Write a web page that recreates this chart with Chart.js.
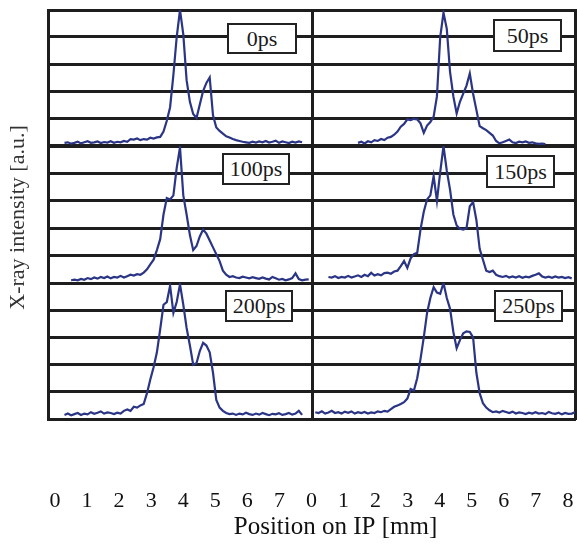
<!DOCTYPE html>
<html>
<head>
<meta charset="utf-8">
<script src="https://cdn.jsdelivr.net/npm/chart.js@4/dist/chart.umd.min.js"></script>
<style>
  body { margin: 0; background: #fff; }
  #wrap { position: relative; width: 577px; height: 550px; overflow: hidden; }
  #wrap canvas { position: absolute; }
  .tag {
    position: absolute; box-sizing: border-box; background: #fff;
    border: 2px solid #222; color: #1a1a1a; text-align: center;
    font: 22px "Liberation Serif", "DejaVu Serif", serif; z-index: 5;
  }
</style>
</head>
<body>
<div id="wrap">
  <canvas id="frame" width="625" height="550" style="left:0;top:0"></canvas>
</div>
<script>
// sample positions along the image plate, mm
const positions = [
  0.0, 0.1, 0.2, 0.3, 0.4, 0.5, 0.6, 0.7, 0.8, 0.9,
  1.0, 1.1, 1.2, 1.3, 1.4, 1.5, 1.6, 1.7, 1.8, 1.9,
  2.0, 2.1, 2.2, 2.3, 2.4, 2.5, 2.6, 2.7, 2.8, 2.9,
  3.0, 3.1, 3.2, 3.3, 3.4, 3.5, 3.6, 3.7, 3.8, 3.9,
  4.0, 4.1, 4.2, 4.3, 4.4, 4.5, 4.6, 4.7, 4.8, 4.9,
  5.0, 5.1, 5.2, 5.3, 5.4, 5.5, 5.6, 5.7, 5.8, 5.9,
  6.0, 6.1, 6.2, 6.3, 6.4, 6.5, 6.6, 6.7, 6.8, 6.9,
  7.0, 7.1, 7.2, 7.3, 7.4, 7.5, 7.6, 7.7, 7.8, 7.9,
  8.0
];

// x-ray intensity, a.u. (0..5 = panel height)
const intensity0ps = [
  null, null, null, null, null, 0.08, 0.10, 0.05, 0.08, 0.12,
  0.06, 0.10, 0.14, 0.08, 0.10, 0.13, 0.07, 0.11, 0.09, 0.14,
  0.08, 0.12, 0.10, 0.15, 0.12, 0.22, 0.20, 0.24, 0.18, 0.22,
  0.20, 0.27, 0.24, 0.28, 0.30, 0.50, 0.90, 1.40, 2.60, 4.00,
  5.00, 4.10, 2.40, 1.60, 1.15, 1.00, 1.50, 2.00, 2.30, 2.50,
  1.10, 0.65, 0.52, 0.42, 0.32, 0.28, 0.22, 0.18, 0.15, 0.12,
  0.10, 0.08, 0.12, 0.09, 0.13, 0.10, 0.15, 0.09, 0.12, 0.16,
  0.08, 0.13, 0.10, 0.07, 0.12, 0.09, 0.13, 0.10, null, null,
  null
];
const intensity50ps = [
  null, null, null, null, null, null, null, null, null, null,
  null, null, null, null, 0.08, 0.12, 0.06, 0.14, 0.10, 0.18,
  0.15, 0.22, 0.18, 0.27, 0.30, 0.38, 0.50, 0.68, 0.78, 0.95,
  0.92, 0.97, 0.95, 0.80, 0.45, 0.72, 0.85, 1.05, 1.80, 4.00,
  4.90, 4.30, 2.70, 1.80, 1.17, 1.60, 1.90, 2.20, 2.65, 1.90,
  1.30, 0.70, 0.62, 0.55, 0.45, 0.35, 0.15, 0.06, 0.10, 0.15,
  0.20, 0.10, 0.07, 0.12, 0.10, 0.13, 0.08, 0.10, 0.06, 0.04,
  0.05, 0.03, null, null, null, null, null, null, null, null,
  null
];
const intensity100ps = [
  null, null, null, null, null, null, null, 0.10, 0.12, 0.10,
  0.15, 0.12, 0.18, 0.14, 0.20, 0.16, 0.22, 0.18, 0.24, 0.17,
  0.22, 0.20, 0.26, 0.20, 0.25, 0.30, 0.27, 0.32, 0.30, 0.38,
  0.50, 0.68, 0.85, 1.20, 1.60, 2.50, 3.10, 3.05, 3.20, 4.20,
  4.95, 3.20, 2.50, 1.75, 1.20, 1.35, 1.70, 1.95, 1.80, 1.55,
  1.30, 1.05, 0.80, 0.45, 0.30, 0.22, 0.25, 0.20, 0.18, 0.23,
  0.20, 0.17, 0.21, 0.18, 0.15, 0.20, 0.16, 0.13, 0.22, 0.17,
  0.12, 0.15, 0.10, 0.13, 0.18, 0.35, 0.14, 0.10, 0.12, 0.13,
  null
];
const intensity150ps = [
  null, null, null, null, null, 0.22, 0.20, 0.25, 0.18, 0.22,
  0.20, 0.26, 0.20, 0.24, 0.28, 0.22, 0.30, 0.25, 0.37, 0.27,
  0.32, 0.28, 0.36, 0.38, 0.34, 0.42, 0.45, 0.62, 0.80, 0.55,
  0.90, 1.05, 1.10, 1.95, 2.60, 3.05, 3.20, 3.90, 3.00, 4.05,
  5.00, 4.10, 3.40, 2.50, 2.10, 1.98, 1.95, 2.00, 2.80, 2.95,
  2.30, 1.25, 0.85, 0.45, 0.40, 0.45, 0.30, 0.25, 0.22, 0.26,
  0.20, 0.24, 0.20, 0.25, 0.19, 0.23, 0.21, 0.26, 0.30, 0.35,
  0.24, 0.20, 0.23, 0.19, 0.24, 0.20, 0.22, 0.18, 0.21, 0.17,
  null
];
const intensity200ps = [
  null, null, null, null, null, 0.15, 0.20, 0.14, 0.18, 0.22,
  0.15, 0.20, 0.17, 0.25, 0.19, 0.23, 0.28, 0.20, 0.24, 0.22,
  0.18, 0.23, 0.20, 0.30, 0.35, 0.30, 0.45, 0.42, 0.50, 0.55,
  0.95, 1.45, 1.90, 2.45, 3.30, 4.20, 4.30, 4.90, 3.90, 4.30,
  4.95, 4.20, 3.35, 2.70, 2.00, 2.05, 2.50, 2.80, 2.70, 2.45,
  1.70, 0.70, 0.42, 0.30, 0.22, 0.18, 0.20, 0.15, 0.20, 0.17,
  0.23, 0.18, 0.15, 0.20, 0.16, 0.22, 0.18, 0.14, 0.19, 0.17,
  0.21, 0.15, 0.18, 0.22, 0.16, 0.20, 0.30, 0.15, null, null,
  null
];
const intensity250ps = [
  null, 0.25, 0.22, 0.28, 0.20, 0.24, 0.30, 0.22, 0.25, 0.20,
  0.27, 0.23, 0.28, 0.20, 0.25, 0.22, 0.26, 0.20, 0.24, 0.22,
  0.28, 0.25, 0.30, 0.27, 0.36, 0.45, 0.50, 0.55, 0.62, 0.75,
  1.10, 1.05, 1.50, 2.20, 3.00, 3.90, 4.45, 4.85, 4.65, 4.60,
  5.00, 4.45, 4.05, 3.20, 2.60, 2.90, 3.15, 3.22, 3.20, 3.00,
  1.70, 0.95, 0.58, 0.42, 0.32, 0.25, 0.28, 0.24, 0.30, 0.26,
  0.22, 0.27, 0.20, 0.24, 0.22, 0.18, 0.23, 0.20, 0.25, 0.20,
  0.22, 0.18, 0.26, 0.21, 0.19, 0.23, 0.17, 0.22, 0.19, 0.20,
  0.25
];

const delayLabels = ['0ps', '50ps', '100ps', '150ps', '200ps', '250ps'];
const seriesList = [intensity0ps, intensity50ps, intensity100ps, intensity150ps, intensity200ps, intensity250ps];
// shared bottom axis: two 0..8 mm plates side by side
const axisTicks = [0, 1, 2, 3, 4, 5, 6, 7, 8, 9, 10, 11, 12, 13, 14, 15, 16];

// layout in page pixels
const colSpan = [[48, 312], [312, 575]];
const rowSpan = [[10, 145], [146, 283], [283, 419]];
const tagBoxes = [[227, 23, 70, 31], [493, 19, 69, 33], [222, 153, 68, 32],
                  [486, 155, 69, 33], [225, 290, 68, 32], [494, 290, 69, 32]];

const ink = '#1e1e1e';
const lineBlue = '#2b3585';
const wrap = document.getElementById('wrap');

// outer frame: shared tick labels and axis titles
// (x range runs a bit past 16 so the axis title sits where the original has it)
new Chart(document.getElementById('frame'), {
    type: 'line',
    data: { datasets: [] },
    options: {
        responsive: false,
        animation: false,
        layout: { padding: { top: 0, right: 9, bottom: 4, left: 0 } },
        plugins: { legend: { display: false }, tooltip: { enabled: false } },
        scales: {
            x: {
                type: 'linear', min: 0, max: 17.5,
                afterBuildTicks: s => { s.ticks = axisTicks.map(v => ({ value: v })); },
                afterFit: s => { s.height = 111; },
                ticks: {
                    autoSkip: false, padding: 3, color: '#111',
                    font: { family: 'Liberation Serif', size: 22 },
                    callback: v => (v === 16 ? 8 : v % 8)
                },
                grid: { display: false, drawTicks: true, tickLength: 50 },
                border: { display: false },
                title: {
                    display: true, text: 'Position on IP [mm]', color: '#111',
                    font: { family: 'Liberation Serif', size: 25 },
                    padding: { top: 0, bottom: 4 }
                }
            },
            y: {
                min: 0, max: 5,
                afterFit: s => { s.width = 55; },
                ticks: { display: false },
                grid: { display: false, drawTicks: false },
                border: { display: false },
                title: {
                    display: true, text: 'X-ray intensity [a.u.]', color: '#333',
                    font: { family: 'Liberation Serif', size: 22 },
                    padding: { top: 5, bottom: 0 }
                }
            }
        }
    }
});

seriesList.forEach(function (vals, i) {
    const col = colSpan[i % 2];
    const row = rowSpan[Math.floor(i / 2)];
    const canvas = document.createElement('canvas');
    canvas.width = col[1] - col[0] + 4;
    canvas.height = row[1] - row[0] + 4;
    canvas.style.left = (col[0] - 2) + 'px';
    canvas.style.top = (row[0] - 2) + 'px';
    wrap.appendChild(canvas);

    new Chart(canvas, {
        type: 'line',
        data: {
            datasets: [{
                label: delayLabels[i],
                data: positions.map((x, k) => ({ x: x, y: vals[k] })),
                borderColor: lineBlue,
                borderWidth: 2.2,
                pointRadius: 0,
                tension: 0,
                fill: false,
                spanGaps: false
            }]
        },
        options: {
            responsive: false,
            animation: false,
            layout: { padding: 2 },
            plugins: { legend: { display: false }, tooltip: { enabled: false } },
            scales: {
                x: {
                    type: 'linear', min: 0, max: 8,
                    ticks: { display: false },
                    grid: { display: false, drawTicks: false },
                    border: { display: true, color: ink, width: 3 }
                },
                y: {
                    min: 0, max: 5,
                    ticks: { display: false, stepSize: 1 },
                    grid: { color: ink, lineWidth: 3, drawTicks: false },
                    border: { display: true, color: ink, width: 3 }
                },
                yr: {
                    position: 'right', min: 0, max: 5,
                    ticks: { display: false },
                    grid: { display: false, drawTicks: false },
                    border: { display: true, color: ink, width: 3 }
                }
            }
        }
    });

    const b = tagBoxes[i];
    const tag = document.createElement('div');
    tag.className = 'tag';
    tag.textContent = delayLabels[i];
    tag.style.left = b[0] + 'px';
    tag.style.top = b[1] + 'px';
    tag.style.width = b[2] + 'px';
    tag.style.height = b[3] + 'px';
    tag.style.lineHeight = (b[3] - 4) + 'px';
    wrap.appendChild(tag);
});
</script>
</body>
</html>
